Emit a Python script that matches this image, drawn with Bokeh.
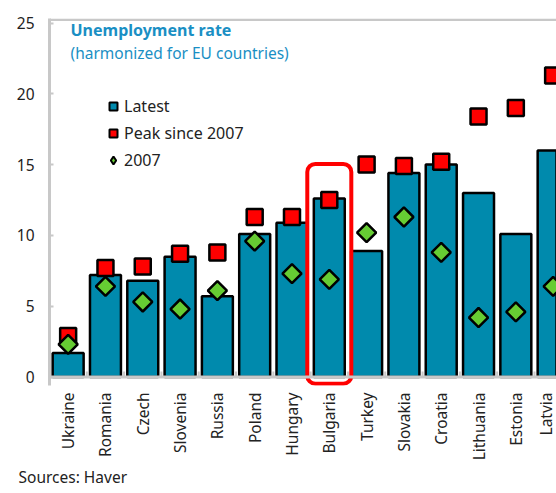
import numpy as np
from bokeh.plotting import figure
from bokeh.models import (Range1d, FixedTicker, Span, Label, Legend, LegendItem, Title)
from bokeh.embed import file_html
from bokeh.resources import INLINE

# ---- data ----
countries = ["Ukraine", "Romania", "Czech", "Slovenia", "Russia", "Poland", "Hungary",
             "Bulgaria", "Turkey", "Slovakia", "Croatia", "Lithuania", "Estonia", "Latvia"]
latest = [1.7, 7.2, 6.8, 8.5, 5.7, 10.1, 10.9, 12.6, 8.9, 14.4, 15.0, 13.0, 10.1, 16.0]
peak = [2.9, 7.7, 7.8, 8.7, 8.8, 11.3, 11.3, 12.5, 15.0, 14.9, 15.2, 18.4, 19.0, 21.3]
y2007 = [2.3, 6.4, 5.3, 4.8, 6.1, 9.6, 7.3, 6.9, 10.2, 11.3, 8.8, 4.2, 4.6, 6.4]
y_ticks = [0, 5, 10, 15, 20, 25]
series_names = ["Latest", "Peak since 2007", "2007"]
title_text = "Unemployment rate"
subtitle_text = "(harmonized for EU countries)"
source_text = "Sources: Haver"
highlight = "Bulgaria"

# ---- style ----
FONT = "Noto Sans"
TEAL = "#008aad"
RED = "#ff0000"
GREEN = "#66cc33"
GRAY = "#c8c8c8"
TITLE_BLUE = "#1a8fc4"
TXT = "#222222"
Y_MIN, Y_MAX = -0.6, 25.32
Y_BORDER = 25.15
X_MIN, X_MAX = -0.5, 13.09

n = len(countries)
xs = list(range(n))
nan = float("nan")

p = figure(width=556, height=493, output_backend="svg", toolbar_location=None,
           x_range=Range1d(X_MIN, X_MAX), y_range=Range1d(Y_MIN, Y_MAX),
           min_border_left=49, min_border_right=0, min_border_top=18, min_border_bottom=108,
           outline_line_color=None, background_fill_color="white", border_fill_color="white")
p.grid.visible = False

# y axis
ya = p.yaxis[0]
ya.ticker = FixedTicker(ticks=y_ticks)
ya.axis_line_color = GRAY
ya.axis_line_width = 3
ya.major_tick_line_color = GRAY
ya.major_tick_line_width = 2
ya.major_tick_in = 4
ya.major_tick_out = 0
ya.minor_tick_line_color = None
ya.major_label_standoff = 15
ya.major_label_text_font = FONT
ya.major_label_text_font_size = "15.5px"
ya.major_label_text_color = TXT

# x axis (labels only)
xa = p.xaxis[0]
xa.ticker = FixedTicker(ticks=xs)
xa.major_label_overrides = {i: c for i, c in enumerate(countries)}
xa.major_label_orientation = np.pi / 2
xa.axis_line_color = None
xa.major_tick_line_color = None
xa.minor_tick_line_color = None
xa.major_label_standoff = 1
xa.major_label_text_font = FONT
xa.major_label_text_font_size = "15.5px"
xa.major_label_text_color = TXT

# top border band (frame edge), baseline and category boundary ticks
p.quad(left=[X_MIN], right=[X_MAX], bottom=[Y_BORDER], top=[Y_MAX],
       fill_color=GRAY, line_color=None)
p.add_layout(Span(location=0, dimension="width", line_color=GRAY, line_width=3))
xb = [i + 0.5 for i in xs]
p.segment(x0=xb, y0=[0] * n, x1=xb, y1=[0.38] * n, line_color=GRAY, line_width=2)

# data marks
p.vbar(x=xs, top=latest, bottom=0, width=0.83, fill_color=TEAL,
       line_color="black", line_width=2.5)
p.scatter(x=xs, y=peak, marker="square", size=16, fill_color=RED,
          line_color="black", line_width=2.5)
p.scatter(x=xs, y=y2007, marker="square", angle=np.pi / 4, size=13.5, fill_color=GREEN,
          line_color="black", line_width=2.5)

# highlight box
bi = countries.index(highlight)
p.quad(left=[bi - 0.59], right=[bi + 0.59], top=[peak[bi] + 2.55], bottom=[-0.47],
       fill_alpha=0, line_color=RED, line_width=4, border_radius=8)

# legend swatches (not drawn in the plot: NaN positions)
l1 = p.scatter(x=[nan], y=[nan], marker="square", fill_color=TEAL, line_color="black", line_width=2)
l2 = p.scatter(x=[nan], y=[nan], marker="square", fill_color=RED, line_color="black", line_width=2)
l3 = p.scatter(x=[nan], y=[nan], marker="diamond", fill_color=GREEN,
               line_color="black", line_width=2)
legend = Legend(items=[LegendItem(label=series_names[0], renderers=[l1]),
                       LegendItem(label=series_names[1], renderers=[l2]),
                       LegendItem(label=series_names[2], renderers=[l3])],
                location=(54, 214), padding=0, margin=0, spacing=5,
                label_height=20, glyph_height=20, glyph_width=20, label_standoff=1,
                border_line_color=None, background_fill_alpha=0,
                label_text_font=FONT, label_text_font_size="16px", label_text_color=TXT)
p.add_layout(legend)

# in-chart titles
p.add_layout(Label(x=21, y=356, x_units="screen", y_units="screen", text=title_text,
                   text_font=FONT, text_font_size="16px", text_font_style="bold",
                   text_color=TITLE_BLUE, text_baseline="middle"))
p.add_layout(Label(x=21, y=333, x_units="screen", y_units="screen", text=subtitle_text,
                   text_font=FONT, text_font_size="15.5px",
                   text_color=TITLE_BLUE, text_baseline="middle"))

# source note below the axis
p.add_layout(Title(text=source_text, align="left", offset=-31, standoff=0,
                   vertical_align="bottom", text_line_height=0.7,
                   text_font=FONT, text_font_size="15.5px", text_font_style="normal",
                   text_color=TXT), "below")

open("out.html", "w").write(file_html(p, INLINE))
